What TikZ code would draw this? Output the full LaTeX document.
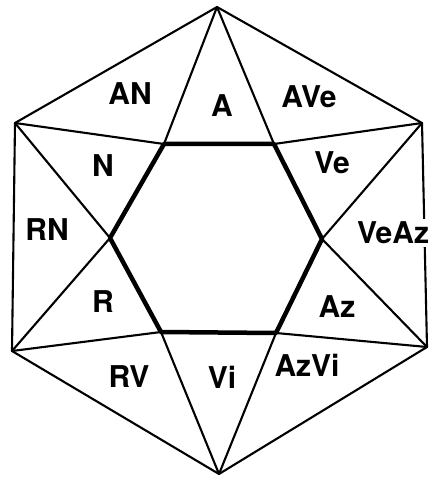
\documentclass[tikz,border=0pt]{standalone}
\usepackage{fontspec}
\setmainfont{TeX Gyre Heros}
\begin{document}
\begin{tikzpicture}[x=1pt,y=-1pt,
  thin line/.style={line width=2.1pt,line join=round,line cap=round},
  thick line/.style={line width=4.5pt,line join=round,line cap=round},
  lab/.style={font=\fontsize{30}{30}\selectfont\bfseries,inner sep=0pt}]
\useasboundingbox (0,0) rectangle (431,481);
% outer hexagon
\coordinate (T) at (217,7);
\coordinate (UL) at (15,123);
\coordinate (UR) at (422,123);
\coordinate (LL) at (12,351);
\coordinate (LR) at (427,347);
\coordinate (B) at (219,474);
% inner hexagon
\coordinate (TL) at (164,144);
\coordinate (TR) at (274,144);
\coordinate (ML) at (110,238);
\coordinate (MR) at (322,239);
\coordinate (BL) at (161,332);
\coordinate (BR) at (276,333);
% thin lines
\draw[thin line] (T) -- (UL) -- (LL) -- (B) -- (LR) -- (UR) -- cycle;
\draw[thin line] (UL) -- (TL) (TR) -- (UR);
\draw[thin line] (T) -- (TL) (T) -- (TR);
\draw[thin line] (UL) -- (ML) -- (LL);
\draw[thin line] (UR) -- (MR) -- (LR);
\draw[thin line] (LL) -- (BL) (BR) -- (LR);
\draw[thin line] (B) -- (BL) (B) -- (BR);
% thick inner hexagon
\draw[thick line] (TL) -- (TR) -- (MR) -- (BR) -- (BL) -- (ML) -- cycle;
% labels
\node[lab] (an) at (130,94) {AN};
\node[lab] (a) at (222,106) {A};
\node[lab] (ave) at (309,97) {AVe};
\node[lab] (n) at (103,166) {N};
\node[lab] (ve) at (332,163) {Ve};
\node[lab] (rn) at (47,230) {RN};
\node[lab,fill=white,inner sep=3pt] (veaz) at (393,233) {VeAz};
\node[lab] (r) at (103,302) {R};
\node[lab] (az) at (337,307) {Az};
\node[lab] (rv) at (129,377) {RV};
\node[lab] (vi) at (222,377) {Vi};
\node[lab] (azvi) at (307,365) {AzVi};
\end{tikzpicture}
\end{document}
